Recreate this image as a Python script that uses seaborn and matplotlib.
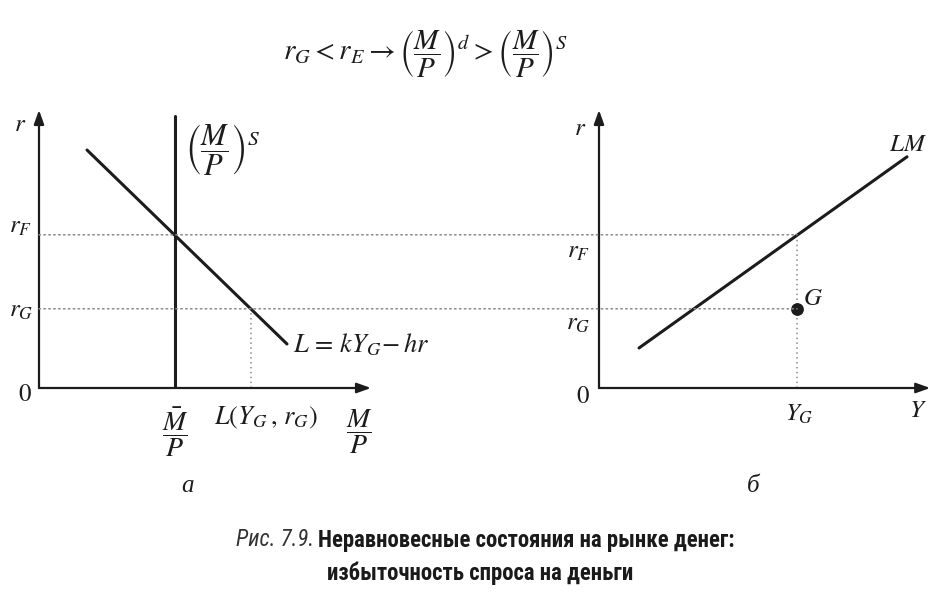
import matplotlib
matplotlib.use("Agg")
import matplotlib.pyplot as plt
from matplotlib.patches import ConnectionPatch
from matplotlib import font_manager
import seaborn as sns
import numpy as np

sns.set_theme(style="white")
plt.rcParams['mathtext.fontset'] = 'stix'
plt.rcParams['font.family'] = ['DejaVu Sans']

# ---- data (schematic units) ----
r_G = 1.98
r_F = 3.83
M_bar = 3.4          # real money supply
L_G = 5.3            # L(Y_G, r_G)
L_line_x = [1.2, 6.2]
L_line_r = [5.95, 1.10]
supply_x = [M_bar, M_bar]
supply_r = [0.0, 6.8]
LM_y = [1.0, 7.7]
LM_r = [1.0, 5.78]
Y_G = 4.95

INK = '#1c1c1c'
DOT = '#8a8a8a'
W, H = 948, 597
fig = plt.figure(figsize=(W / 100, H / 100), dpi=100)
fig.patch.set_facecolor('white')

def px_axes(x0, y_base, w, h):
    return fig.add_axes([x0 / W, (H - y_base) / H, w / W, h / H])

ax1 = px_axes(39, 388, 360, 288)
ax2 = px_axes(599, 388, 340, 288)
for ax, xmax in ((ax1, 9.0), (ax2, 8.5)):
    ax.set_xlim(0, xmax)
    ax.set_ylim(0, 7.2)
    ax.axis('off')

def axes_arrows(ax, xend, yend):
    ap = dict(arrowstyle='-|>,head_length=0.7,head_width=0.25', color=INK, lw=1.6,
              shrinkA=0, shrinkB=0)
    ax.annotate('', xy=(xend, 0), xytext=(0, 0), arrowprops=ap, annotation_clip=False)
    ax.annotate('', xy=(0, yend), xytext=(0, 0), arrowprops=ap, annotation_clip=False)

# dotted guide lines spanning both panels
dot_kw = dict(color=DOT, lw=1.1, linestyle=(0, (1, 2.2)))
for rv in (r_F, r_G):
    cp = ConnectionPatch(xyA=(0, rv), coordsA=ax1.transData,
                         xyB=(Y_G, rv), coordsB=ax2.transData, **dot_kw)
    fig.add_artist(cp)
ax1.plot([L_G, L_G], [0, r_G], **dot_kw)
ax2.plot([Y_G, Y_G], [0, r_F], **dot_kw)

# panel a
axes_arrows(ax1, 8.3, 6.95)
sns.lineplot(x=supply_x, y=supply_r, ax=ax1, color=INK, lw=2.2, estimator=None, sort=False)
sns.lineplot(x=L_line_x, y=L_line_r, ax=ax1, color=INK, lw=2.2, estimator=None, sort=False)

# panel b
axes_arrows(ax2, 8.28, 6.95)
sns.lineplot(x=LM_y, y=LM_r, ax=ax2, color=INK, lw=2.2, estimator=None, sort=False)
sns.scatterplot(x=[Y_G], y=[r_G], ax=ax2, color=INK, s=85, zorder=5, linewidth=0)

FS = 18
def t(ax, x, y, s, ha='center', va='center', fs=FS, **kw):
    ax.text(x, y, s, ha=ha, va=va, fontsize=fs, color=INK, clip_on=False, **kw)

# labels panel a
t(ax1, -0.48, 6.6, r'$r$')
t(ax1, -0.45, 4.05, r'$r_F$')
t(ax1, -0.45, 1.95, r'$r_G$')
t(ax1, -0.35, -0.15, r'$0$')
t(ax1, M_bar, -1.1, r'$\dfrac{\bar{M}}{P}$', fs=20)
t(ax1, 5.67, -0.75, r'$L(Y_G\,,\,r_G)$', fs=19)
t(ax1, 8.0, -1.1, r'$\dfrac{M}{P}$', fs=20)
t(ax1, 3.65, 5.95, r'$\left(\dfrac{M}{P}\right)^S$', ha='left', fs=22)
t(ax1, 6.35, 1.07, r'$L\,=\,kY_G\!-hr$', ha='left', fs=19)
ax1.text(3.7, -2.45, 'а', ha='center', va='center', fontsize=FS, color=INK,
         family='Liberation Serif', style='italic', clip_on=False)

# labels panel b
t(ax2, -0.48, 6.5, r'$r$')
t(ax2, -0.52, 3.42, r'$r_F$')
t(ax2, -0.52, 1.62, r'$r_G$')
t(ax2, -0.4, -0.2, r'$0$')
t(ax2, 7.72, 6.1, r'$LM$')
t(ax2, 5.35, 2.25, r'$G$')
t(ax2, Y_G + 0.05, -0.65, r'$Y_G$')
t(ax2, 7.97, -0.55, r'$Y$')
ax2.text(3.85, -2.45, 'б', ha='center', va='center', fontsize=FS, color=INK,
         family='Liberation Serif', style='italic', clip_on=False)

# top formula
fig.text(425 / W, 1 - 54 / H,
         r'$r_G < r_E \rightarrow \left(\dfrac{M}{P}\right)^d > \left(\dfrac{M}{P}\right)^S$',
         ha='center', va='center', fontsize=21, color=INK)

# caption
names = {f.name for f in font_manager.fontManager.ttflist}
cap_font = 'DejaVu Sans'
for cand in ('Liberation Sans Narrow', 'Roboto Condensed', 'Open Sans Condensed'):
    if cand in names:
        cap_font = cand
        break

cap1 = 'Неравновесные состояния на рынке денег:'
cap2 = 'избыточность спроса на деньги'
fig.canvas.draw()
rend = fig.canvas.get_renderer()
probe = fig.text(0, 0, cap1, fontsize=15, fontweight='bold', family=cap_font)
wpx = probe.get_window_extent(rend).width
probe.remove()
cfs = 15 * 418 / wpx
cfs = min(cfs, 17)
fig.text(318 / W, 1 - 540 / H, cap1, ha='left', va='center', fontsize=cfs,
         fontweight='bold', family=cap_font, color='#1a1a1a')
fig.text(314 / W, 1 - 540 / H, 'Рис. 7.9.', ha='right', va='center', fontsize=cfs,
         style='italic', family=cap_font, color='#333333')
fig.text(480 / W, 1 - 573 / H, cap2, ha='center', va='center', fontsize=cfs,
         fontweight='bold', family=cap_font, color='#1a1a1a')

fig.savefig('out.png', dpi=100, facecolor='white')
